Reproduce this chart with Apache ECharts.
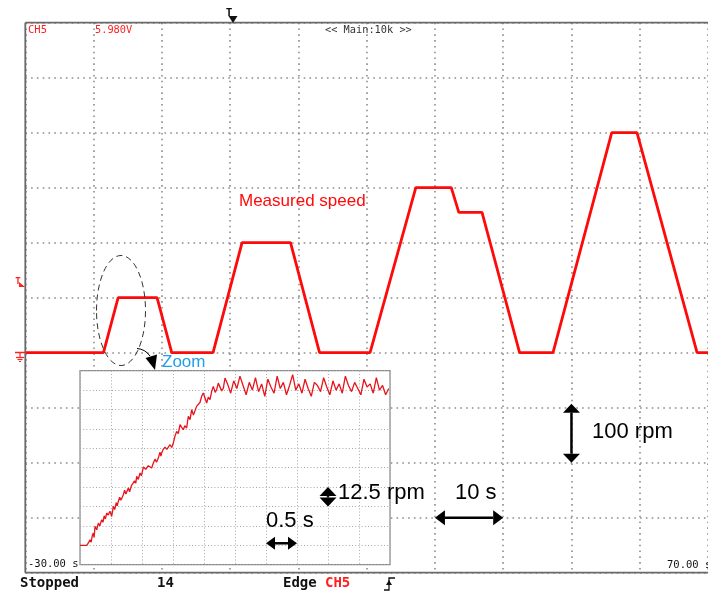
<!DOCTYPE html>
<html><head><meta charset="utf-8">
<script src="https://cdn.jsdelivr.net/npm/echarts@6/dist/echarts.min.js"></script>
<style>html,body{margin:0;padding:0;background:#fff}#c{width:708px;height:592px}</style>
</head><body><div id="c"></div>
<script>
// Main trace: time (s) and measured speed (rpm)
const mainTime  = [-30, -18.55, -16.4, -10.7, -8.55, -2.5, 1.75, 8.85, 13.1, 20.5, 27.2, 32.4, 33.5, 36.9, 42.4, 47.3, 55.9, 59.6, 68.4, 70];
const mainSpeed = [0, 0, 100, 100, 0, 0, 200, 200, 0, 0, 300, 300, 255, 255, 0, 0, 400, 400, 0, 0];

// Zoomed inset (first acceleration): [time s from inset left edge, speed rpm]
const zoomRise = [[0,0],[0.108,0],[0.135,1.5],[0.161,3.6],[0.18,2],[0.2,6.5],[0.215,7.9],[0.228,5],[0.242,12.2],[0.27,10],[0.296,14.3],[0.32,12.5],[0.349,16.5],[0.37,14.8],[0.39,19],[0.41,17],[0.43,20.8],[0.455,19.5],[0.484,21.9],[0.511,18.6],[0.538,25.1],[0.56,23],[0.585,27.5],[0.6,25.5],[0.618,28.3],[0.64,31],[0.66,29],[0.699,32.6],[0.72,35.5],[0.74,33],[0.78,36.9],[0.8,34.5],[0.83,38.5],[0.86,39],[0.88,41.5],[0.9,40],[0.914,44.4],[0.94,42.5],[0.968,46.6],[0.99,44.8],[1.022,50.4],[1.06,49],[1.102,51.3],[1.13,52.5],[1.156,49.8],[1.183,53],[1.21,55.5],[1.235,53.5],[1.263,56.2],[1.29,60],[1.305,57.5],[1.317,59.5],[1.345,62],[1.371,63.3],[1.4,61.8],[1.452,64.8],[1.48,63],[1.505,65.9],[1.53,70],[1.559,73.4],[1.585,72],[1.613,77.7],[1.64,76],[1.667,74.5],[1.69,77],[1.72,75.6],[1.747,83.1],[1.775,81],[1.801,87.4],[1.83,84],[1.855,85.2],[1.88,89.5],[1.909,88.5],[1.935,92],[1.962,96],[1.989,98.1],[2.016,97],[2.043,91.7],[2.07,95.5],[2.097,93.8],[2.124,99.2],[2.15,102.4],[2.18,98.5],[2.204,100.3],[2.23,104.5],[2.258,103.5],[2.285,99.5],[2.312,101.3],[2.339,107.8]];
const zoomFlatTime = [2.38, 2.43, 2.48, 2.53, 2.58, 2.63, 2.68, 2.73, 2.78, 2.83, 2.88, 2.93, 2.98, 3.03, 3.08, 3.13, 3.18, 3.23, 3.28, 3.33, 3.38, 3.43, 3.48, 3.53, 3.58, 3.63, 3.68, 3.73, 3.78, 3.83, 3.88, 3.93, 3.98, 4.03, 4.08, 4.13, 4.18, 4.23, 4.28, 4.33, 4.38, 4.43, 4.48, 4.53, 4.58, 4.63, 4.68, 4.73, 4.78, 4.83, 4.88, 4.93, 4.98];
const zoomFlatSpeed = [104, 98, 106, 101, 109, 103, 97, 105, 100, 108, 99, 104, 96, 107, 102, 98, 109, 101, 105, 97, 103, 110, 100, 104, 98, 107, 101, 96, 105, 103, 99, 108, 102, 97, 106, 100, 104, 98, 109, 103, 99, 105, 101, 97, 107, 102, 104, 98, 108, 100, 103, 97, 101];

// Axis ranges / divisions
const mainX = {min: -30, max: 70, step: 10};
const mainY = {min: -400, max: 600, step: 100};
const zoomX = {min: 0, max: 5, step: 0.5};
const zoomY = {min: -12.5, max: 112.5, step: 12.5};

// Text labels
const scaleLabels = {rpm100: '100 rpm', s10: '10 s', rpm12: '12.5 rpm', s05: '0.5 s'};

const mainData = mainTime.map((t, i) => [t, mainSpeed[i]]);
const zoomData = zoomRise.concat(zoomFlatTime.map((t, i) => [t, zoomFlatSpeed[i]]));

const mainSplit = {show: true, lineStyle: {color: '#8c8c8c', type: [1.6, 4.2], width: 1.6}};
const zoomSplit = {show: true, lineStyle: {color: '#a8a8a8', type: [1, 2.2], width: 1}};
const hidden = {axisLine: {show: false}, axisTick: {show: false}, axisLabel: {show: false}};

const chart = echarts.init(document.getElementById('c'), null, {renderer: 'canvas'});
const option = {
  animation: false,
  backgroundColor: '#fff',
  grid: [
    {left: 25.3, top: 22.7, width: 690, height: 550, show: false, z: 0},
    {left: 80, top: 370.7, width: 310, height: 194, show: true, borderColor: '#888', borderWidth: 1.2, backgroundColor: '#fff', z: 3}
  ],
  xAxis: [
    Object.assign({type: 'value', gridIndex: 0, min: mainX.min, max: mainX.max, interval: mainX.step, splitLine: mainSplit, z: 1}, hidden),
    Object.assign({type: 'value', gridIndex: 1, min: zoomX.min, max: zoomX.max, interval: zoomX.step, splitLine: zoomSplit, z: 4}, hidden)
  ],
  yAxis: [
    Object.assign({type: 'value', gridIndex: 0, min: mainY.min, max: mainY.max, interval: mainY.step, splitLine: mainSplit, z: 1}, hidden),
    Object.assign({type: 'value', gridIndex: 1, min: zoomY.min, max: zoomY.max, interval: zoomY.step, splitLine: zoomSplit, z: 4}, hidden)
  ],
  series: [
    {type: 'line', xAxisIndex: 0, yAxisIndex: 0, data: mainData, showSymbol: false, z: 2,
     lineStyle: {color: '#ff0a0a', width: 2.8}},
    {type: 'line', xAxisIndex: 1, yAxisIndex: 1, data: zoomData, showSymbol: false, z: 6,
     lineStyle: {color: '#e8141c', width: 1.3}}
  ]
};
chart.setOption(option);

function px(g, v) { return chart.convertToPixel({gridIndex: g}, v); }
function dblArrow(a, b, headLen, halfW, w) {
  const dx = b[0] - a[0], dy = b[1] - a[1];
  const L = Math.hypot(dx, dy), ux = dx / L, uy = dy / L, nx = -uy, ny = ux;
  const s1 = [a[0] + ux * headLen, a[1] + uy * headLen];
  const s2 = [b[0] - ux * headLen, b[1] - uy * headLen];
  return [
    {type: 'line', z: 20, shape: {x1: s1[0], y1: s1[1], x2: s2[0], y2: s2[1]}, style: {stroke: '#000', lineWidth: w}},
    {type: 'polygon', z: 20, shape: {points: [a, [s1[0] + nx * halfW, s1[1] + ny * halfW], [s1[0] - nx * halfW, s1[1] - ny * halfW]]}, style: {fill: '#000'}},
    {type: 'polygon', z: 20, shape: {points: [b, [s2[0] + nx * halfW, s2[1] + ny * halfW], [s2[0] - nx * halfW, s2[1] - ny * halfW]]}, style: {fill: '#000'}}
  ];
}
function txt(x, y, s, size, color, font, weight, align) {
  return {type: 'text', z: 20, x: x, y: y, style: {text: s, fontSize: size, fill: color, fontFamily: font, fontWeight: weight || 'normal', align: align || 'left', verticalAlign: 'middle'}};
}
function seg(x1, y1, x2, y2, color, w) {
  return {type: 'line', z: 20, shape: {x1: x1, y1: y1, x2: x2, y2: y2}, style: {stroke: color, lineWidth: w}};
}
const ARIAL = 'Liberation Sans, Arial, sans-serif';
const MONO = 'DejaVu Sans Mono, monospace';

// frame of main screen (top, left, bottom; right side is outside the picture)
const tl = px(0, [mainX.min, mainY.max]);
const br = px(0, [mainX.max, mainY.min]);
let g = [];
g.push(seg(tl[0], tl[1], 708, tl[1], '#6a6a6a', 1.8));
g.push(seg(tl[0], tl[1], tl[0], br[1], '#6a6a6a', 1.8));
g.push(seg(tl[0], br[1], 708, br[1], '#6a6a6a', 1.8));

// scale annotations
g = g.concat(dblArrow(px(0, [50, -93]), px(0, [50, -200]), 9, 8.5, 2.5));
g = g.concat(dblArrow(px(0, [30, -300]), px(0, [40, -300]), 10, 7.5, 2.5));
g = g.concat(dblArrow(px(1, [4.0, 37.5]), px(1, [4.0, 25]), 9, 8.5, 2.5));
g = g.concat(dblArrow(px(1, [3.0, 1.3]), px(1, [3.5, 1.3]), 9, 6.5, 2.5));
g.push(txt(592, 432, scaleLabels.rpm100, 22, '#000', ARIAL));
g.push(txt(455, 493, scaleLabels.s10, 22, '#000', ARIAL));
g.push(txt(338, 493, scaleLabels.rpm12, 22, '#000', ARIAL));
g.push(txt(266, 521, scaleLabels.s05, 22, '#000', ARIAL));
g.push(txt(239, 201.5, 'Measured speed', 17, '#ff0a0a', ARIAL));
g.push(txt(162, 362, 'Zoom', 17, '#1e9fe8', ARIAL));
// dashed ellipse + curved arrow
g.push({type: 'ellipse', z: 20, shape: {cx: 121, cy: 310.5, rx: 24.5, ry: 55}, style: {fill: 'none', stroke: '#333', lineWidth: 1, lineDash: [6, 4]}});
g.push({type: 'bezierCurve', z: 20, shape: {x1: 137, y1: 348.5, cpx1: 145, cpy1: 349, x2: 150, y2: 356}, style: {stroke: '#000', lineWidth: 1, fill: 'none'}});
g.push({type: 'polygon', z: 20, shape: {points: [[145.5, 358], [157, 354.5], [155, 370]]}, style: {fill: '#000'}});
// scope texts
g.push(txt(28, 30, 'CH5', 10.5, '#ff2020', MONO));
g.push(txt(95, 30, '5.980V', 10.3, '#ff2020', MONO));
g.push(txt(325, 30, '<< Main:10k >>', 10.3, '#333', MONO));
g.push(txt(28, 564, '-30.00 s', 10.5, '#111', MONO));
g.push(txt(667, 565, '70.00 s', 10.5, '#111', MONO));
g.push(txt(20, 583, 'Stopped', 14, '#111', MONO, 'bold'));
g.push(txt(157, 583, '14', 14, '#111', MONO, 'bold'));
g.push(txt(283, 583, 'Edge', 14, '#111', MONO, 'bold'));
g.push(txt(325, 583, 'CH5', 14, '#ff2020', MONO, 'bold'));
// trigger position marker at top
g.push(txt(229, 13, 'T', 11, '#111', MONO, 'bold', 'center'));
g.push({type: 'polygon', z: 20, shape: {points: [[228.5, 16], [237.5, 16], [233, 23]]}, style: {fill: '#111'}});
// trigger level marker (left)
g.push(txt(18, 282, 'T', 9, '#ff2020', MONO, 'bold', 'center'));
g.push({type: 'polygon', z: 20, shape: {points: [[19, 287], [25, 287], [19, 282]]}, style: {fill: '#ff2020'}});
// ground marker (left)
g.push(seg(15, 352.5, 25, 352.5, '#ff2020', 1.5));
g.push(seg(20, 352.5, 20, 357, '#ff2020', 1.2));
g.push(seg(16, 357.5, 24, 357.5, '#ff2020', 1.2));
g.push(seg(17.5, 359.5, 22.5, 359.5, '#ff2020', 1.2));
g.push(seg(19, 361.5, 21, 361.5, '#ff2020', 1.2));
// edge symbol (bottom)
g.push({type: 'polyline', z: 20, shape: {points: [[384, 590], [389, 590], [389, 578], [395, 578]]}, style: {stroke: '#111', lineWidth: 1.3, fill: 'none'}});
g.push({type: 'polygon', z: 20, shape: {points: [[386, 585], [392, 585], [389, 580]]}, style: {fill: '#111'}});

chart.setOption({graphic: {elements: g}});
</script>
</body></html>
